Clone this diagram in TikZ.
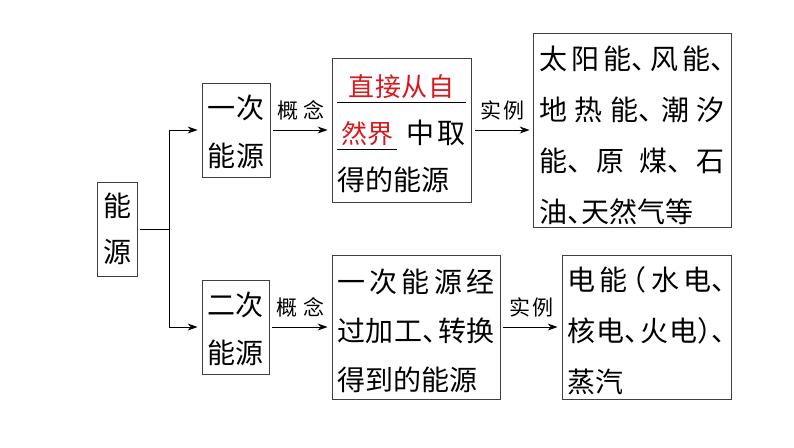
\documentclass[tikz,border=0pt]{standalone}
\usepackage{fontspec}
\setmainfont{Noto Sans CJK SC}[RawFeature=+halt]
\usetikzlibrary{arrows.meta}
\definecolor{fillred}{RGB}{215,25,30}
% spread the characters of a line over a given width
\makeatletter
\def\sp@first#1{#1\sp@rest}
\def\sp@rest#1{\ifx#1\relax\else
  \ifx#1、\else\ifx#1）\else\hspace{0pt plus 1fil}\fi\fi
  #1\expandafter\sp@rest\fi}
\newcommand\spread[2]{\makebox[#1][s]{\sp@first#2\relax}}
\makeatother
\newcommand\blank[2]{\makebox[#1][l]{\rlap{\rule[-6pt]{#1}{0.8pt}}\makebox[#1]{#2}}}
\newcommand\lift[1]{\rule{0pt}{#1}}
\begin{document}
\begin{tikzpicture}[x=1pt,y=-1pt,
  frame/.style={draw=black!75,line width=0.8pt,inner sep=0pt,
    font=\fontsize{28}{48}\selectfont},
  tag/.style={font=\fontsize{21}{21}\selectfont,inner sep=0pt,above=9pt},
  >={Stealth[length=10pt,width=7pt]}]
  \useasboundingbox (0,0) rectangle (794,447);
  \node[frame,minimum width=40pt,minimum height=94pt,align=center,
    font=\fontsize{28}{46}\selectfont] (ny) at (117,229) {能\\源};
  \node[frame,minimum width=68pt,minimum height=94pt,align=center] (yc) at (236,130) {\lift{28pt}\spread{57pt}{一次}\\\spread{57pt}{能源}};
  \node[frame,minimum width=67pt,minimum height=94pt,align=center] (ec) at (235.5,327) {\lift{28pt}\spread{57pt}{二次}\\\spread{57pt}{能源}};
  \node[frame,minimum width=139pt,inner xsep=5pt,minimum height=144pt,align=left,
    font=\fontsize{28}{47}\selectfont] (gn1) at (401.5,130)
    {\lift{30pt}\blank{129pt}{\color{fillred}\fontsize{26}{47}\selectfont\spread{106pt}{直接从自}}\\
     \blank{60pt}{\color{fillred}\fontsize{26}{47}\selectfont\spread{52pt}{然界}}\hspace{9pt}\spread{60pt}{中取}\\
     得的能源};
  \node[frame,minimum width=168pt,inner xsep=5pt,minimum height=144pt,align=left,
    font=\fontsize{28}{49}\selectfont] (gn2) at (416,327)
    {\lift{31pt}\spread{158pt}{一次能源经}\\
     \spread{158pt}{过加工、转换}\\
     得到的能源};
  \node[frame,minimum width=198pt,inner xsep=5pt,minimum height=194pt,align=left,
    font=\fontsize{28}{51}\selectfont] (sl1) at (632,130)
    {\lift{34pt}\spread{186pt}{太阳能、风能、}\\
     \spread{186pt}{地热能、潮汐}\\
     \spread{186pt}{能、原煤、石}\\
     油、天然气等};
  \node[frame,minimum width=169pt,inner xsep=5pt,minimum height=144pt,align=left,
    font=\fontsize{28}{51}\selectfont] (sl2) at (646.5,327)
    {\lift{31pt}\spread{158pt}{电能（水电、}\\
     \spread{158pt}{核电、火电）、}\\
     蒸汽};
  \coordinate (fork) at (169,229);
  \draw [line width=1pt, shorten <=3pt] (ny.east) -- (fork);
  \draw [line width=1pt, ->, shorten >=4pt] (fork) |- (yc.west);
  \draw [line width=1pt, ->, shorten >=4pt] (fork) |- (ec.west);
  \draw [line width=1pt, ->, shorten <=3pt, shorten >=4pt] (yc.east) -- node[tag] (gn1l) {\spread{48pt}{概念}} (gn1.west);
  \draw [line width=1pt, ->, shorten <=3pt, shorten >=4pt] (ec.east) -- node[tag] (gn2l) {\spread{48pt}{概念}} (gn2.west);
  \draw [line width=1pt, ->, shorten <=4pt, shorten >=3pt] (gn1.east) -- node[tag] (sl1l) {\spread{44pt}{实例}} (sl1.west);
  \draw [line width=1pt, ->, shorten <=3pt, shorten >=4pt] (gn2.east) -- node[tag] (sl2l) {\spread{44pt}{实例}} (sl2.west);
\end{tikzpicture}
\end{document}
